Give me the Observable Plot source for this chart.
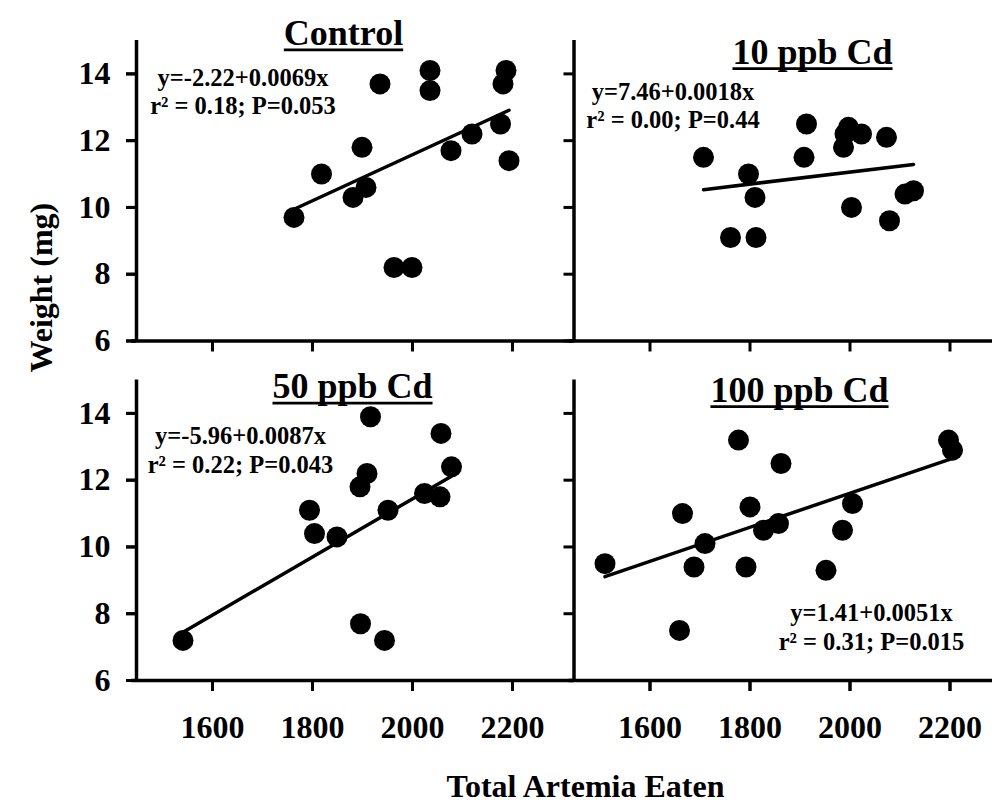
<!DOCTYPE html>
<html><head><meta charset="utf-8">
<script src="https://cdn.jsdelivr.net/npm/d3@7"></script>
<script src="https://cdn.jsdelivr.net/npm/@observablehq/plot@0.6"></script>
<style>
html,body{margin:0;padding:0;background:#fff;overflow:hidden;}
#chart{width:992px;height:807px;overflow:hidden;}
</style></head><body><div id="chart"></div>
<script>
// ---- data ----
const groups = ["Control", "10 ppb Cd", "50 ppb Cd", "100 ppb Cd"];
const columns = ["left", "right", "left", "right"];
const rows = ["top", "top", "bottom", "bottom"];

const controlX = [1763, 1818, 1881, 1907, 1899, 1935, 1963, 1999, 2035, 2035, 2077, 2119, 2176, 2181, 2187, 2193];
const controlY = [9.7, 11.0, 10.3, 10.6, 11.8, 13.7, 8.2, 8.2, 14.1, 13.5, 11.7, 12.2, 12.5, 13.7, 14.1, 11.4];

const cd10X = [1707, 1797, 1810, 1761, 1812, 1913, 1908, 1997, 2023, 1987, 1990, 2073, 2003, 2079, 2110, 2127];
const cd10Y = [11.5, 11.0, 10.3, 9.1, 9.1, 12.5, 11.5, 12.4, 12.2, 11.8, 12.2, 12.1, 10.0, 9.6, 10.4, 10.5];

const cd50X = [1541, 1794, 1804, 1849, 1895, 1909, 1916, 1896, 1944, 1951, 2024, 2055, 2057, 2078];
const cd50Y = [7.2, 11.1, 10.4, 10.3, 11.8, 12.2, 13.9, 7.7, 7.2, 11.1, 11.6, 11.5, 13.4, 12.4];

const cd100X = [1510, 1665, 1659, 1688, 1710, 1777, 1792, 1800, 1827, 1857, 1862, 1952, 1985, 2005, 2197, 2205];
const cd100Y = [9.5, 11.0, 7.5, 9.4, 10.1, 13.2, 9.4, 11.2, 10.5, 10.7, 12.5, 9.3, 10.5, 11.3, 13.2, 12.9];

const intercepts = [-2.22, 7.46, -5.96, 1.41];
const slopes = [0.0069, 0.0018, 0.0087, 0.0051];
const equationLabels = ["y=-2.22+0.0069x", "y=7.46+0.0018x", "y=-5.96+0.0087x", "y=1.41+0.0051x"];
const statLabels = ["r\u00B2 = 0.18; P=0.053", "r\u00B2 = 0.00; P=0.44", "r\u00B2 = 0.22; P=0.043", "r\u00B2 = 0.31; P=0.015"];

const xTicks = [1600, 1800, 2000, 2200];
const yTicks = [6, 8, 10, 12, 14];
const xLabel = "Total Artemia Eaten";
const yLabel = "Weight (mg)";

// ---- layout (scale domains and label anchors, in data units) ----
const xDomain = [1448, 2323];
const yDomain = [6, 15];
const titleAt = [[1862, 14.87], [1925, 14.31], [1880, 14.46], [1899, 14.35]];
const noteAt = [[1661, 13.49], [1646, 13.07], [1656, 12.92], [2043, 7.62]];

// ---- build tables ----
const xs = [controlX, cd10X, cd50X, cd100X];
const ys = [controlY, cd10Y, cd50Y, cd100Y];
const points = [];
const fitLines = [];
const titles = [];
const notes = [];
groups.forEach((g, i) => {
  xs[i].forEach((x, j) => points.push({group: g, col: columns[i], row: rows[i], x, y: ys[i][j]}));
  const [x0, x1] = d3.extent(xs[i]);
  for (const x of [x0, x1]) fitLines.push({group: g, col: columns[i], row: rows[i], x, y: intercepts[i] + slopes[i] * x});
  titles.push({col: columns[i], row: rows[i], x: titleAt[i][0], y: titleAt[i][1], text: g});
  notes.push({col: columns[i], row: rows[i], x: noteAt[i][0], y: noteAt[i][1], text: equationLabels[i] + "\n" + statLabels[i]});
});

const serif = "'Liberation Serif', 'Times New Roman', Times, serif";

const chart = Plot.plot({
  width: 992,
  height: 807,
  marginLeft: 136,
  marginRight: -19,
  marginTop: 40,
  marginBottom: 127,
  style: {fontFamily: serif, background: "#fff", color: "#000", maxWidth: "none", overflow: "hidden"},
  x: {domain: xDomain},
  y: {domain: yDomain},
  fx: {domain: ["left", "right"], paddingInner: 0, paddingOuter: 0, axis: null, round: false},
  fy: {domain: ["top", "bottom"], paddingInner: 0.115, paddingOuter: 0, axis: null, round: false},
  marks: [
    Plot.axisY({ticks: yTicks, tickSize: 10, tickFormat: () => "", facetAnchor: null, strokeWidth: 3, label: null}),
    Plot.axisY({ticks: yTicks, tickSize: 10, tickPadding: 16, tickFormat: "d", facetAnchor: "left", fontSize: 32, fontWeight: "bold", strokeWidth: 3, label: null}),
    Plot.axisX({ticks: xTicks, tickSize: 11, tickFormat: () => "", facetAnchor: null, strokeWidth: 3, label: null}),
    Plot.axisX({ticks: xTicks, tickSize: 11, tickPadding: 24, tickFormat: "d", facetAnchor: "bottom", fontSize: 32, fontWeight: "bold", strokeWidth: 3, label: null}),
    Plot.ruleY([yDomain[0]], {strokeWidth: 3.5, insetLeft: -5}),
    Plot.ruleX([xDomain[0]], {strokeWidth: 3.5}),
    Plot.line(fitLines, {x: "x", y: "y", z: "group", fx: "col", fy: "row", stroke: "#000", strokeWidth: 3.5}),
    Plot.dot(points, {x: "x", y: "y", fx: "col", fy: "row", r: 10.5, fill: "#000", stroke: null}),
    Plot.text(titles, {x: "x", y: "y", fx: "col", fy: "row", text: "text", fontSize: 36, fontWeight: "bold", lineAnchor: "bottom", className: "facet-title", ariaDescription: "facet-title"}),
    Plot.text(notes, {x: "x", y: "y", fx: "col", fy: "row", text: "text", fontSize: 24.5, lineHeight: 1.17, fontWeight: "bold", lineAnchor: "middle"}),
    Plot.text([yLabel], {facet: "super", frameAnchor: "left", rotate: -90, dx: -95, dy: 12, fontSize: 32, fontWeight: "bold", lineAnchor: "middle"}),
    Plot.text([xLabel], {facet: "super", frameAnchor: "bottom", dx: 11.5, dy: 116, fontSize: 32, fontWeight: "bold", lineAnchor: "bottom"})
  ]
});

document.getElementById("chart").appendChild(chart);

// underline the panel titles, measured from the rendered text
const titleSet = new Set(groups);
chart.querySelectorAll("text").forEach((t) => {
  if (!titleSet.has(t.textContent)) return;
  const b = t.getBBox();
  const line = document.createElementNS("http://www.w3.org/2000/svg", "line");
  const base = parseFloat(t.getAttribute("y") || "0");
  line.setAttribute("x1", b.x);
  line.setAttribute("x2", b.x + b.width);
  line.setAttribute("y1", base + 5);
  line.setAttribute("y2", base + 5);
  line.setAttribute("stroke", "#000");
  line.setAttribute("stroke-width", "2.8");
  const tr = t.getAttribute("transform");
  if (tr) line.setAttribute("transform", tr);
  t.parentNode.appendChild(line);
});
</script>
</body></html>
